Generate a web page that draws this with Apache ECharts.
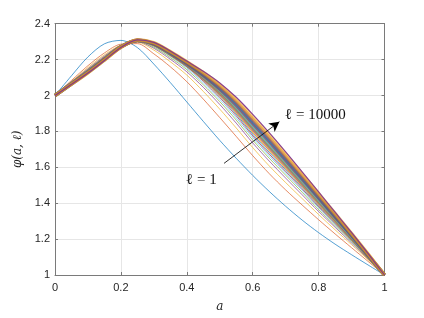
<!DOCTYPE html>
<html>
<head>
<meta charset="utf-8">
<script src="https://cdn.jsdelivr.net/npm/echarts@6/dist/echarts.min.js"></script>
<style>
html,body{margin:0;padding:0;background:#fff;}
#chart{width:424px;height:318px;}
</style>
</head>
<body>
<div id="chart"></div>
<script>
// a grid (x values)
const aValues = [0, 0.05, 0.1, 0.15, 0.2, 0.25, 0.3, 0.35, 0.4, 0.45, 0.5, 0.55, 0.6, 0.65, 0.7, 0.75, 0.8, 0.85, 0.9, 0.95, 1];
const xTickLabels = ['0', '0.2', '0.4', '0.6', '0.8', '1'];
const yTickLabels = ['1', '1.2', '1.4', '1.6', '1.8', '2', '2.2', '2.4'];

// phi(a, l) curves, l = 1 ... 10000
const curve01 = [2.000, 2.110, 2.215, 2.288, 2.307, 2.267, 2.175, 2.072, 1.964, 1.856, 1.750, 1.650, 1.555, 1.466, 1.383, 1.306, 1.236, 1.172, 1.113, 1.056, 1.000];
const curve02 = [2.000, 2.084, 2.166, 2.237, 2.286, 2.289, 2.232, 2.160, 2.077, 1.980, 1.877, 1.772, 1.665, 1.565, 1.474, 1.390, 1.308, 1.229, 1.152, 1.076, 1.000];
const curve03 = [2.000, 2.078, 2.156, 2.227, 2.281, 2.296, 2.253, 2.188, 2.114, 2.023, 1.924, 1.819, 1.710, 1.608, 1.515, 1.426, 1.337, 1.252, 1.169, 1.085, 1.000];
const curve04 = [2.000, 2.075, 2.149, 2.220, 2.279, 2.299, 2.263, 2.202, 2.132, 2.046, 1.950, 1.846, 1.736, 1.635, 1.540, 1.447, 1.354, 1.266, 1.178, 1.090, 1.000];
const curve05 = [2.000, 2.073, 2.145, 2.215, 2.277, 2.301, 2.269, 2.211, 2.144, 2.060, 1.966, 1.863, 1.752, 1.651, 1.556, 1.461, 1.365, 1.275, 1.185, 1.093, 1.000];
const curve06 = [2.000, 2.071, 2.141, 2.212, 2.275, 2.303, 2.274, 2.218, 2.153, 2.071, 1.979, 1.876, 1.766, 1.664, 1.568, 1.472, 1.375, 1.282, 1.189, 1.096, 1.000];
const curve07 = [2.000, 2.069, 2.139, 2.209, 2.274, 2.304, 2.278, 2.223, 2.160, 2.080, 1.989, 1.887, 1.776, 1.674, 1.577, 1.480, 1.381, 1.287, 1.193, 1.098, 1.000];
const curve08 = [2.000, 2.068, 2.137, 2.207, 2.273, 2.305, 2.281, 2.227, 2.164, 2.086, 1.997, 1.896, 1.785, 1.684, 1.586, 1.488, 1.388, 1.292, 1.197, 1.100, 1.000];
const curve09 = [2.000, 2.068, 2.136, 2.206, 2.273, 2.305, 2.282, 2.229, 2.167, 2.090, 2.004, 1.904, 1.795, 1.694, 1.595, 1.496, 1.395, 1.298, 1.200, 1.101, 1.000];
const curve10 = [2.000, 2.067, 2.135, 2.205, 2.272, 2.306, 2.283, 2.230, 2.169, 2.095, 2.010, 1.913, 1.806, 1.704, 1.604, 1.503, 1.402, 1.303, 1.204, 1.103, 1.000];
const curve11 = [2.000, 2.067, 2.134, 2.204, 2.272, 2.306, 2.285, 2.232, 2.171, 2.099, 2.017, 1.921, 1.816, 1.714, 1.613, 1.511, 1.409, 1.308, 1.208, 1.105, 1.000];
const curve12 = [2.000, 2.066, 2.133, 2.203, 2.272, 2.307, 2.286, 2.234, 2.174, 2.103, 2.023, 1.930, 1.826, 1.724, 1.622, 1.519, 1.415, 1.313, 1.211, 1.107, 1.000];
const curve13 = [2.000, 2.066, 2.132, 2.202, 2.271, 2.307, 2.287, 2.236, 2.176, 2.107, 2.030, 1.938, 1.835, 1.734, 1.631, 1.527, 1.422, 1.319, 1.215, 1.109, 1.000];
const curve14 = [2.000, 2.065, 2.130, 2.201, 2.270, 2.308, 2.288, 2.237, 2.178, 2.112, 2.036, 1.947, 1.845, 1.744, 1.640, 1.535, 1.429, 1.324, 1.219, 1.111, 1.000];
const curve15 = [2.000, 2.064, 2.129, 2.199, 2.270, 2.308, 2.290, 2.240, 2.182, 2.117, 2.043, 1.956, 1.855, 1.753, 1.649, 1.543, 1.436, 1.329, 1.222, 1.113, 1.000];
const curve16 = [2.000, 2.063, 2.128, 2.198, 2.269, 2.309, 2.292, 2.243, 2.185, 2.123, 2.052, 1.967, 1.868, 1.767, 1.661, 1.554, 1.445, 1.336, 1.227, 1.115, 1.000];
const curve17 = [2.000, 2.063, 2.126, 2.196, 2.269, 2.309, 2.294, 2.245, 2.189, 2.129, 2.061, 1.978, 1.881, 1.780, 1.673, 1.564, 1.454, 1.343, 1.232, 1.118, 1.000];
const curve18 = [2.000, 2.062, 2.125, 2.195, 2.268, 2.310, 2.296, 2.248, 2.192, 2.135, 2.070, 1.990, 1.895, 1.793, 1.686, 1.575, 1.463, 1.350, 1.237, 1.120, 1.000];

const curves = [curve01, curve02, curve03, curve04, curve05, curve06, curve07, curve08, curve09,
  curve10, curve11, curve12, curve13, curve14, curve15, curve16, curve17, curve18];

// annotation arrow (data coordinates) and texts
const arrowStart = [0.513, 1.622];
const arrowEnd = [0.681, 1.854];
const labelLow = 'ℓ = 1';
const labelHigh = 'ℓ = 10000';

const palette = ['#0072BD', '#D95319', '#EDB120', '#7E2F8E', '#77AC30', '#4DBEEE', '#A2142F'];

const series = curves.map((c, i) => ({
  type: 'line',
  data: c.map((v, j) => [aValues[j], v]),
  showSymbol: false,
  smooth: 0.3,
  lineStyle: {
    width: i >= 9 ? (i === 17 ? 1.2 : 3.4) : 0.9,
    color: palette[i % 7],
    opacity: i >= 9 ? (i === 17 ? 0.9 : 0.55) : 0.75
  },
  z: 2,
  silent: true
}));

series.push({
  type: 'line',
  data: [],
  markLine: {
    silent: true,
    symbol: ['none', 'arrow'],
    symbolSize: [8, 10],
    label: { show: false },
    lineStyle: { color: '#000', width: 0.8, type: 'solid' },
    data: [[{ coord: arrowStart }, { coord: arrowEnd }]]
  },
  z: 5
});

const axisLineColor = '#7a7a7a';
const labelFont = { color: '#262626', fontSize: 11, fontFamily: 'Liberation Sans, Arial, sans-serif' };

const chart = echarts.init(document.getElementById('chart'), null, { renderer: 'canvas' });
chart.setOption({
  animation: false,
  backgroundColor: '#fff',
  grid: { left: 55, right: 39.5, top: 23.7, bottom: 34.7, containLabel: false },
  xAxis: [
    {
      type: 'value', min: 0, max: 1, interval: 0.2, position: 'bottom',
      axisLine: { show: true, onZero: false, lineStyle: { color: axisLineColor, width: 1 } },
      axisTick: { show: true, inside: true, length: 3, lineStyle: { color: axisLineColor } },
      axisLabel: Object.assign({ margin: 7, formatter: (v) => xTickLabels[Math.round(v / 0.2)] }, labelFont),
      splitLine: { show: true, lineStyle: { color: '#e6e6e6', width: 1 } },
      name: 'a', nameLocation: 'middle', nameGap: 26,
      nameTextStyle: { fontFamily: 'DejaVu Serif, Liberation Serif, serif', fontStyle: 'italic', fontSize: 12, color: '#262626' }
    },
    {
      type: 'value', min: 0, max: 1, interval: 0.2, position: 'top',
      axisLine: { show: true, onZero: false, lineStyle: { color: axisLineColor, width: 1 } },
      axisTick: { show: true, inside: true, length: 3, lineStyle: { color: axisLineColor } },
      axisLabel: { show: false },
      splitLine: { show: false }
    }
  ],
  yAxis: [
    {
      type: 'value', min: 1, max: 2.4, interval: 0.2, position: 'left',
      axisLine: { show: true, onZero: false, lineStyle: { color: axisLineColor, width: 1 } },
      axisTick: { show: true, inside: true, length: 3, lineStyle: { color: axisLineColor } },
      axisLabel: Object.assign({ margin: 5, formatter: (v) => yTickLabels[Math.round((v - 1) / 0.2)] }, labelFont),
      splitLine: { show: true, lineStyle: { color: '#e6e6e6', width: 1 } },
      name: 'φ(a, ℓ)', nameLocation: 'middle', nameGap: 23, nameRotate: 90,
      nameTextStyle: { fontFamily: 'DejaVu Serif, Liberation Serif, serif', fontStyle: 'italic', fontSize: 12, color: '#262626' }
    },
    {
      type: 'value', min: 1, max: 2.4, interval: 0.2, position: 'right',
      axisLine: { show: true, onZero: false, lineStyle: { color: axisLineColor, width: 1 } },
      axisTick: { show: true, inside: true, length: 3, lineStyle: { color: axisLineColor } },
      axisLabel: { show: false },
      splitLine: { show: false }
    }
  ],
  series: series,
  graphic: [
    { type: 'text', left: 285, top: 108, z: 10,
      style: { text: labelHigh, fontFamily: 'Liberation Serif, DejaVu Serif, serif', fontSize: 15, fill: '#111' } },
    { type: 'text', left: 186, top: 173, z: 10,
      style: { text: labelLow, fontFamily: 'Liberation Serif, DejaVu Serif, serif', fontSize: 15, fill: '#111' } }
  ]
});
</script>
</body>
</html>
